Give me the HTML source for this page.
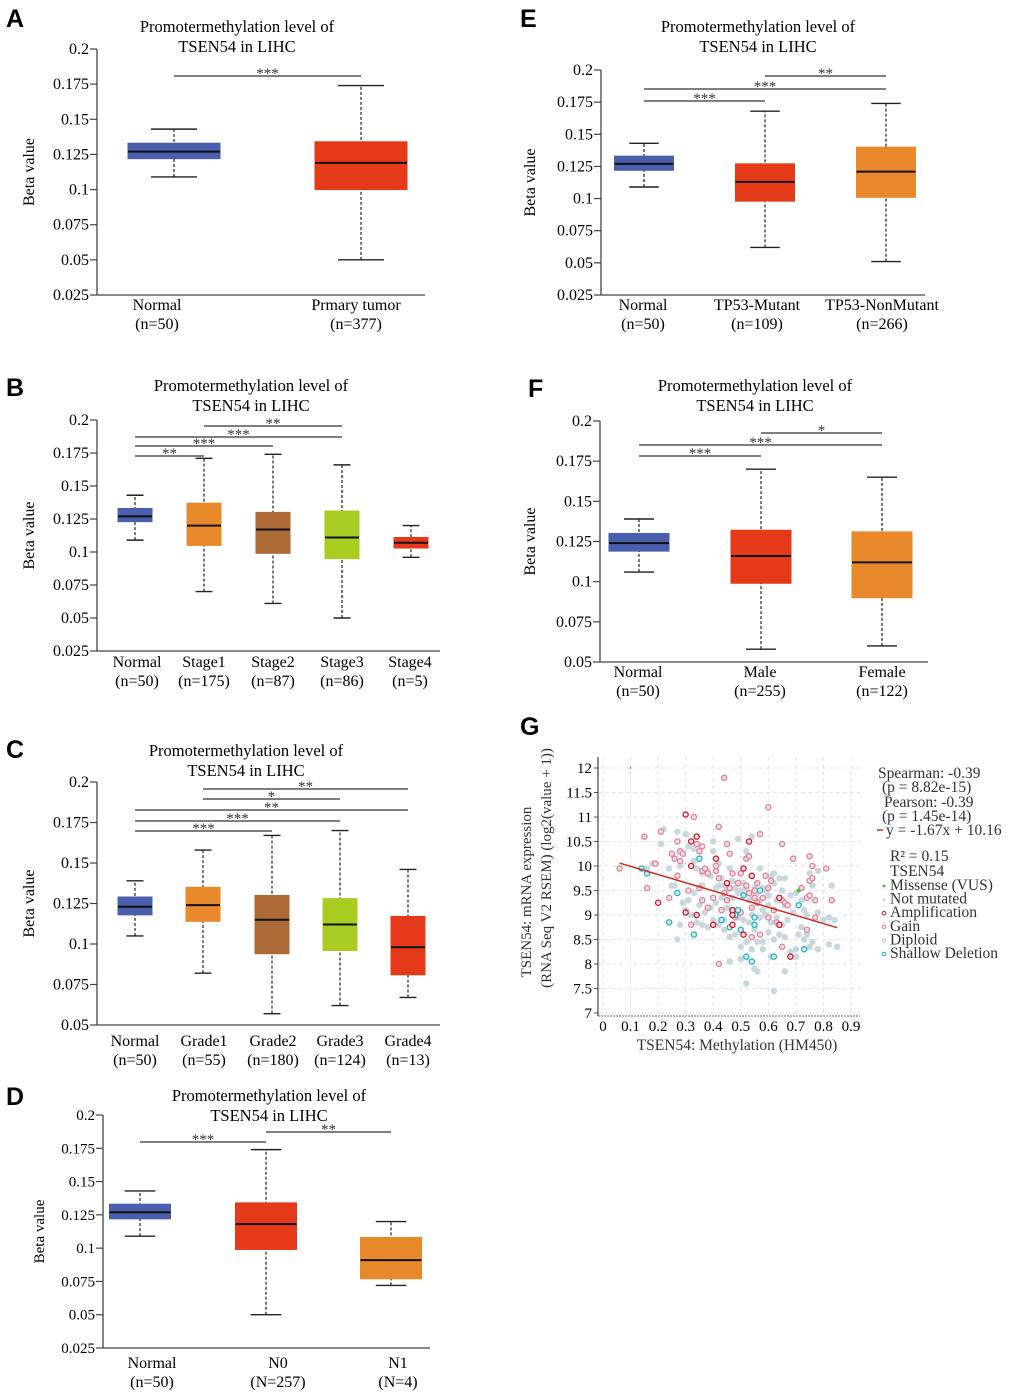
<!DOCTYPE html>
<html><head><meta charset="utf-8">
<style>
html,body{margin:0;padding:0;background:#fff;}
svg{display:block;font-family:"Liberation Serif",serif;}
.lt{font-family:"Liberation Sans",sans-serif;font-weight:bold;font-size:25px;}
</style></head>
<body>
<svg id="fig" width="1020" height="1398" viewBox="0 0 1020 1398" xmlns="http://www.w3.org/2000/svg">
<text class="lt" x="6" y="27">A</text>
<text class="lt" x="6" y="396">B</text>
<text class="lt" x="6" y="758">C</text>
<text class="lt" x="6" y="1105">D</text>
<text class="lt" x="520" y="27">E</text>
<text class="lt" x="528" y="397">F</text>
<text class="lt" x="520" y="735">G</text>
</svg>
<script>
// ---------- Box plot data ----------
const ticksFull=[0.2,0.175,0.15,0.125,0.1,0.075,0.05,0.025];
const tickLabelsFull=["0.2","0.175","0.15","0.125","0.1","0.075","0.05","0.025"];
const ticksShort=[0.2,0.175,0.15,0.125,0.1,0.075,0.05];
const tickLabelsShort=["0.2","0.175","0.15","0.125","0.1","0.075","0.05"];

const catsA=["Normal","Prmary tumor"];
const nA=["(n=50)","(n=377)"];
const statsA=[[0.109,0.122,0.127,0.133,0.143],[0.050,0.100,0.119,0.134,0.174]];
const sigA=[[0,1,"***"]];

const catsB=["Normal","Stage1","Stage2","Stage3","Stage4"];
const nB=["(n=50)","(n=175)","(n=87)","(n=86)","(n=5)"];
const statsB=[[0.109,0.123,0.127,0.133,0.143],[0.070,0.105,0.120,0.137,0.171],[0.061,0.099,0.117,0.130,0.174],[0.050,0.095,0.111,0.131,0.166],[0.096,0.103,0.107,0.111,0.120]];
const sigB=[[0,1,"**"],[0,2,"***"],[0,3,"***"],[1,3,"**"]];

const catsC=["Normal","Grade1","Grade2","Grade3","Grade4"];
const nC=["(n=50)","(n=55)","(n=180)","(n=124)","(n=13)"];
const statsC=[[0.105,0.118,0.123,0.129,0.139],[0.082,0.114,0.124,0.135,0.158],[0.057,0.094,0.115,0.130,0.167],[0.062,0.096,0.112,0.128,0.170],[0.067,0.081,0.098,0.117,0.146]];
const sigC=[[0,2,"***"],[0,3,"***"],[0,4,"**"],[1,3,"*"],[1,4,"**"]];

const catsD=["Normal","N0","N1"];
const nD=["(n=50)","(N=257)","(N=4)"];
const statsD=[[0.109,0.122,0.127,0.133,0.143],[0.050,0.099,0.118,0.134,0.174],[0.072,0.077,0.091,0.108,0.120]];
const sigD=[[0,1,"***"],[1,2,"**"]];

const catsE=["Normal","TP53-Mutant","TP53-NonMutant"];
const nE=["(n=50)","(n=109)","(n=266)"];
const statsE=[[0.109,0.122,0.127,0.133,0.143],[0.062,0.098,0.113,0.127,0.168],[0.051,0.101,0.121,0.140,0.174]];
const sigE=[[0,1,"***"],[0,2,"***"],[1,2,"**"]];

const catsF=["Normal","Male","Female"];
const nF=["(n=50)","(n=255)","(n=122)"];
const statsF=[[0.106,0.119,0.124,0.130,0.139],[0.058,0.099,0.116,0.132,0.170],[0.060,0.090,0.112,0.131,0.165]];
const sigF=[[0,1,"***"],[0,2,"***"],[1,2,"*"]];

// ---------- Scatter data (G) ----------
const ampX=[0.30,0.32,0.34,0.32,0.41,0.53,0.51,0.54,0.45,0.20,0.30,0.34,0.47,0.47,0.40,0.47,0.51,0.64,0.64,0.68];
const ampY=[11.05,10.5,10.6,10.0,10.15,10.5,9.95,9.8,9.65,9.25,9.05,9.0,9.1,9.0,8.8,8.8,8.6,9.35,8.8,8.15];
const shalX=[0.14,0.16,0.27,0.35,0.24,0.34,0.33,0.43,0.47,0.49,0.48,0.46,0.51,0.55,0.55,0.57,0.50,0.52,0.54,0.62,0.71,0.73];
const shalY=[9.95,9.85,9.45,10.15,8.85,9.0,8.6,8.9,9.1,9.1,9.0,8.75,9.4,8.95,8.8,9.5,8.7,8.15,8.05,8.15,9.2,8.3];
const gainX=[0.06,0.15,0.16,0.19,0.21,0.24,0.25,0.26,0.27,0.28,0.28,0.29,0.27,0.31,0.33,0.34,0.35,0.36,0.36,0.35,0.37,0.38,0.36,0.38,0.32,0.41,0.41,0.42,0.42,0.44,0.45,0.46,0.46,0.47,0.44,0.45,0.43,0.49,0.50,0.52,0.52,0.53,0.53,0.55,0.55,0.54,0.56,0.57,0.58,0.59,0.60,0.60,0.61,0.62,0.60,0.63,0.65,0.65,0.66,0.67,0.69,0.72,0.74,0.75,0.76,0.75,0.76,0.77,0.75,0.74,0.77,0.81,0.83,0.42,0.54,0.57,0.65,0.50,0.56,0.48,0.40];
const gainY=[9.95,10.6,9.55,10.05,10.7,9.35,10.25,10.15,10.5,10.3,10.1,10.25,9.8,9.5,11.0,10.45,10.3,10.4,9.9,9.55,9.95,9.85,9.3,9.15,8.8,9.9,10.0,9.75,10.8,11.8,10.45,10.25,9.55,9.85,9.45,9.3,9.1,9.65,9.85,9.6,10.15,10.2,9.45,9.5,9.35,9.15,9.65,10.65,9.35,9.8,11.2,9.55,9.7,9.1,8.95,8.85,10.45,9.3,9.25,9.2,10.15,9.55,9.35,10.2,10.0,9.7,9.75,9.3,9.4,8.7,8.95,9.95,9.3,8.0,8.55,8.6,8.35,9.05,9.25,8.95,9.35];
const dipX=[0.22,0.21,0.27,0.28,0.24,0.30,0.31,0.33,0.33,0.34,0.36,0.38,0.39,0.40,0.41,0.42,0.43,0.44,0.45,0.47,0.48,0.49,0.50,0.51,0.52,0.53,0.54,0.55,0.56,0.57,0.58,0.59,0.60,0.61,0.62,0.63,0.64,0.65,0.66,0.68,0.70,0.72,0.73,0.74,0.75,0.76,0.78,0.80,0.82,0.83,0.84,0.82,0.85,0.78,0.76,0.73,0.74,0.72,0.70,0.68,0.66,0.64,0.62,0.60,0.58,0.56,0.54,0.52,0.50,0.48,0.46,0.44,0.42,0.40,0.38,0.36,0.34,0.32,0.30,0.28,0.27,0.29,0.31,0.33,0.35,0.37,0.39,0.41,0.43,0.45,0.47,0.49,0.51,0.53,0.55,0.57,0.59,0.61,0.63,0.65,0.67,0.69,0.71,0.55,0.56,0.62,0.52,0.66,0.46,0.50,0.58,0.61,0.49,0.54,0.52,0.57,0.62,0.66,0.46,0.47,0.42,0.40,0.58,0.60,0.54,0.44,0.36,0.25,0.18,0.26,0.16,0.70,0.75,0.78,0.80];
const dipY=[10.75,10.45,10.7,10.0,9.95,10.65,10.4,10.35,10.1,9.95,9.85,9.9,9.8,10.3,9.55,9.6,9.75,9.6,9.5,9.35,9.55,9.45,9.5,9.65,9.55,9.3,9.4,9.55,9.45,9.3,9.55,9.5,9.4,9.8,9.65,9.3,9.75,9.5,9.2,9.4,9.45,9.3,9.1,9.0,9.85,9.6,9.9,8.9,8.95,9.6,8.9,8.4,8.35,8.3,8.45,8.5,8.6,8.75,8.3,8.25,8.55,8.6,8.5,8.65,8.45,8.45,8.3,8.45,8.35,8.6,8.55,8.7,8.8,8.9,8.75,8.8,8.85,9.0,9.1,8.8,8.5,9.25,9.3,9.45,9.2,9.05,9.15,9.25,9.35,9.15,9.05,8.95,8.9,8.85,8.7,8.95,9.0,8.85,8.95,8.8,8.9,9.05,8.6,7.9,7.85,7.45,7.6,7.85,8.05,8.1,8.3,8.15,10.55,10.6,10.3,9.95,9.85,9.75,9.95,9.7,10.05,10.5,9.1,9.2,9.0,8.9,9.6,9.6,10.05,9.6,9.95,8.15,8.35,9.05,8.9];
const misX=[0.71];
const misY=[9.5];
const regSlope=-1.67, regIntercept=10.16;
const gXTicks=[0,0.1,0.2,0.3,0.4,0.5,0.6,0.7,0.8,0.9];
const gXLabels=["0","0.1","0.2","0.3","0.4","0.5","0.6","0.7","0.8","0.9"];
const gYTicks=[12,11.5,11,10.5,10,9.5,9,8.5,8,7.5,7];
const gYLabels=["12","11.5","11","10.5","10","9.5","9","8.5","8","7.5","7"];

const NS="http://www.w3.org/2000/svg";
const svg=document.getElementById('fig');
function mk(tag,attrs,parent){const e=document.createElementNS(NS,tag);for(const k in attrs)e.setAttribute(k,attrs[k]);(parent||svg).appendChild(e);return e;}
function txt(s,attrs,parent){const e=mk('text',attrs,parent);e.textContent=s;return e;}

function boxPanel(id,L,cats,ns,stats,sigs,colors,ticks,tickLabels){
  const g=mk('g',{});
  
  
  const y=v=>L.y0+(L.vmax-v)/(L.vmax-L.vmin)*(L.y1-L.y0);
  const t1=txt("Promotermethylation level of",{x:L.tx,y:L.ty,'text-anchor':'middle','font-size':16.5},g);
  
  
  const t2=txt("TSEN54 in LIHC",{x:L.tx,y:L.ty+20,'text-anchor':'middle','font-size':16.5},g);
  
  
  const yt=txt("Beta value",{x:0,y:0,'text-anchor':'middle','font-size':L.fs,transform:`translate(${L.ytx},${(L.y0+L.y1)/2}) rotate(-90)`},g);
  
  
  mk('line',{x1:L.ax,y1:L.y0,x2:L.ax,y2:L.y1,stroke:'#444','stroke-width':1.3},g);
  mk('line',{x1:L.ax,y1:L.y1,x2:L.xend,y2:L.y1,stroke:'#444','stroke-width':1.3},g);
  ticks.forEach((t,i)=>{
    mk('line',{x1:L.ax-7,y1:y(t),x2:L.ax,y2:y(t),stroke:'#444','stroke-width':1.2},g);
    const tl=txt(tickLabels[i],{x:L.ax-8,y:y(t)+5,'text-anchor':'end','font-size':L.fs},g);
    
    
  });
  stats.forEach((s,i)=>{
    const cx=L.cx[i],w=L.bw,cw=w*0.5;
    const bg=mk('g',{},g);
    
    
    mk('line',{x1:cx,y1:y(s[0]),x2:cx,y2:y(s[4]),stroke:'#222','stroke-width':1.2,'stroke-dasharray':'3,2'},bg);
    mk('line',{x1:cx-cw/2,y1:y(s[0]),x2:cx+cw/2,y2:y(s[0]),stroke:'#222','stroke-width':1.4},bg);
    mk('line',{x1:cx-cw/2,y1:y(s[4]),x2:cx+cw/2,y2:y(s[4]),stroke:'#222','stroke-width':1.4},bg);
    mk('rect',{x:cx-w/2,y:y(s[3]),width:w,height:y(s[1])-y(s[3]),fill:colors[i],stroke:colors[i],'stroke-width':1},bg);
    mk('line',{x1:cx-w/2,y1:y(s[2]),x2:cx+w/2,y2:y(s[2]),stroke:'#111','stroke-width':2},bg);
    const cl=txt(cats[i],{x:L.lx[i],y:L.ly,'text-anchor':'middle','font-size':16},g);
    
    
    const nl=txt(ns[i],{x:L.lx[i],y:L.ly+19,'text-anchor':'middle','font-size':16},g);
    
    
  });
  sigs.forEach((s,k)=>{
    const yy=L.sy[k];
    const x1=L.cx[s[0]],x2=L.cx[s[1]];
    const sl=mk('line',{x1:x1,y1:yy,x2:x2,y2:yy,stroke:'#333','stroke-width':1.3},g);
    
    
    const st=txt(s[2],{x:(x1+x2)/2,y:yy+2,'text-anchor':'middle','font-size':15,fill:'#333'},g);
    
    
  });
}
const BL='#4a5fad',RD='#e43a19',OR='#e8892b',BR='#ab6a36',GR='#a8cc22';
boxPanel('panel-a',{ax:97,y0:49,y1:295,vmax:0.2,vmin:0.025,xend:425,tx:237,ty:32,ytx:34,fs:16,bw:92,cx:[174,361],lx:[157,356],ly:310,sy:[76]},catsA,nA,statsA,sigA,[BL,RD],ticksFull,tickLabelsFull);
boxPanel('panel-b',{ax:97,y0:420,y1:651,vmax:0.2,vmin:0.025,xend:440,tx:251,ty:391,ytx:34,fs:16,bw:34,cx:[135,204,273,342,411],lx:[137,204,273,342,410],ly:667,sy:[456,446,437,426]},catsB,nB,statsB,sigB,[BL,OR,BR,GR,RD],ticksFull,tickLabelsFull);
boxPanel('panel-c',{ax:97,y0:782,y1:1025,vmax:0.2,vmin:0.05,xend:440,tx:246,ty:756,ytx:34,fs:16,bw:34,cx:[135,203,272,340,408],lx:[135,204,273,340,408],ly:1046,sy:[831,821,810,799,789]},catsC,nC,statsC,sigC,[BL,OR,BR,GR,RD],ticksShort,tickLabelsShort);
boxPanel('panel-d',{ax:103,y0:1115,y1:1348,vmax:0.2,vmin:0.025,xend:430,tx:269,ty:1101,ytx:44,fs:15,bw:61,cx:[140,266,391],lx:[152,278,398],ly:1368,sy:[1142,1132]},catsD,nD,statsD,sigD,[BL,RD,OR],ticksFull,tickLabelsFull);
boxPanel('panel-e',{ax:601,y0:70,y1:295,vmax:0.2,vmin:0.025,xend:925,tx:758,ty:32,ytx:535,fs:16,bw:59,cx:[644,765,886],lx:[643,757,882],ly:310,sy:[101,89,76]},catsE,nE,statsE,sigE,[BL,RD,OR],ticksFull,tickLabelsFull);
boxPanel('panel-f',{ax:600,y0:421,y1:662,vmax:0.2,vmin:0.05,xend:928,tx:755,ty:391,ytx:535,fs:16,bw:60,cx:[639,761,882],lx:[638,760,882],ly:677,sy:[456,445,433]},catsF,nF,statsF,sigF,[BL,RD,OR],ticksShort,tickLabelsShort);

// ---------- Scatter panel G ----------
(function(){
  const g=mk('g',{});
  
  
  const X=v=>603+v*(851-603)/0.9;
  const Y=v=>768+(12-v)*49;
  const left=598,right=860,top=757,bottom=1016;
  gYTicks.forEach((t,i)=>{
    mk('line',{x1:left,y1:Y(t),x2:right,y2:Y(t),stroke:'#e6e6e6','stroke-width':1,'stroke-dasharray':'4,3'},g);
    mk('line',{x1:left-4,y1:Y(t),x2:left,y2:Y(t),stroke:'#555'},g);
    const l=txt(gYLabels[i],{x:left-6,y:Y(t)+5,'text-anchor':'end','font-size':15},g);
    
    
  });
  gXTicks.forEach((t,i)=>{
    mk('line',{x1:X(t),y1:top,x2:X(t),y2:bottom,stroke:'#e6e6e6','stroke-width':1,'stroke-dasharray':'4,3'},g);
    const l=txt(gXLabels[i],{x:X(t),y:bottom+15,'text-anchor':'middle','font-size':15},g);
    
    
  });
  mk('line',{x1:left,y1:top,x2:left,y2:bottom,stroke:'#444','stroke-width':1.2},g);
  mk('line',{x1:left,y1:bottom,x2:right,y2:bottom,stroke:'#888','stroke-width':1.2,'stroke-dasharray':'2,1'},g);
  const xt=txt("TSEN54: Methylation (HM450)",{x:737,y:1050,'text-anchor':'middle','font-size':15.5,fill:'#333'},g);
  
  
  const yt1=txt("TSEN54: mRNA expression",{x:0,y:0,'text-anchor':'middle','font-size':15,fill:'#333',transform:'translate(531,892) rotate(-90)'},g);
  
  
  const yt2=txt("(RNA Seq V2 RSEM) (log2(value + 1))",{x:0,y:0,'text-anchor':'middle','font-size':15,fill:'#333',transform:'translate(551,868) rotate(-90)'},g);
  
  
  mk('circle',{cx:X(0.1),cy:Y(12),r:0.8,fill:'#666'},g);
  function pts(xs,ys,name,fill,stroke,r){
    const pg=mk('g',{},g);
    
    
    xs.forEach((x,i)=>{
      const c=mk('circle',{cx:X(x),cy:Y(ys[i]),r:r,fill:fill,stroke:stroke,'stroke-width':1.3},pg);
      
      
    });
  }
  pts(dipX,dipY,'diploid-points','#c9d7df','#c9d7df',2.6);
  pts(gainX,gainY,'gain-points','#dfe3e8','#ee7c93',2.6);
  pts(shalX,shalY,'shallow-deletion-points','#dfe8ec','#1bb6c6',2.6);
  pts(ampX,ampY,'amplification-points','#e6e6e6','#e0102a',2.6);
  pts(misX,misY,'missense-points','#4cc23a','#4cc23a',1.5);
  const rl=mk('line',{x1:X(0.06),y1:Y(regSlope*0.06+regIntercept),x2:X(0.85),y2:Y(regSlope*0.85+regIntercept),stroke:'#c9301e','stroke-width':1.5},g);
  
  
  const lg=mk('g',{'font-size':15.5,fill:'#333'},g);
  
  
  const lines=[["Spearman: -0.39",878,778],[" (p = 8.82e-15)",882,792],["Pearson: -0.39",884,807],[" (p = 1.45e-14)",882,821],["y = -1.67x + 10.16",886,835],["R² = 0.15",890,861],["TSEN54",890,876]];
  lines.forEach(l=>{const t=txt(l[0],{x:l[1],y:l[2]},lg);});
  mk('line',{x1:877,y1:830,x2:883,y2:830,stroke:'#c9301e','stroke-width':1.5},lg);
  const items=[["Missense (VUS)",'#4cc23a','#4cc23a'],["Not mutated",'#c9d7df','#c9d7df'],["Amplification",'#fff','#e0102a'],["Gain",'#fff','#ee7c93'],["Diploid",'#eee','#c9d7df'],["Shallow Deletion",'#fff','#1bb6c6']];
  items.forEach((it,i)=>{
    const yy=890+i*13.6;
    const e=mk('g',{},lg);
    
    
    mk('circle',{cx:884,cy:yy-4,r:i<2?1:1.8,fill:it[1],stroke:it[2],'stroke-width':1},e);
    txt(it[0],{x:890,y:yy},e);
  });
})();
</script>
</body></html>
